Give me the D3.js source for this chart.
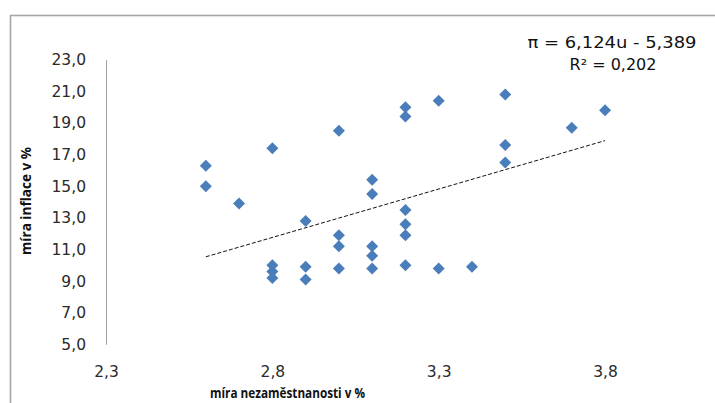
<!DOCTYPE html>
<html>
<head>
<meta charset="utf-8">
<script src="https://cdn.jsdelivr.net/npm/d3@7"></script>
<style>
  html, body { margin: 0; padding: 0; background: #fff; }
  svg { display: block; }
</style>
</head>
<body>
<script>
// ---- data ----
const unemployment = [2.6, 2.6, 2.7, 2.8, 2.8, 2.8, 2.8, 2.9, 2.9, 2.9,
  3.0, 3.0, 3.0, 3.0, 3.1, 3.1, 3.1, 3.1, 3.1,
  3.2, 3.2, 3.2, 3.2, 3.2, 3.2, 3.3, 3.3, 3.4, 3.5, 3.5, 3.5, 3.7, 3.8];
const inflation = [16.3, 15.0, 13.9, 17.4, 10.0, 9.6, 9.2, 12.8, 9.9, 9.1,
  18.5, 11.9, 11.2, 9.8, 15.4, 14.5, 11.2, 10.6, 9.8,
  20.0, 19.4, 13.5, 12.6, 11.9, 10.0, 20.4, 9.8, 9.9, 20.8, 17.6, 16.5, 18.7, 19.8];
const xTicks = [2.3, 2.8, 3.3, 3.8];
const yTicks = [5, 7, 9, 11, 13, 15, 17, 19, 21, 23];
const trendSlope = 6.124;
const trendIntercept = -5.389;
const equationText = "π = 6,124u - 5,389";
const r2Text = "R² = 0,202";
const xTitle = "míra nezaměstnanosti v %";
const yTitle = "míra inflace v %";

const W = 715, H = 403;
const svg = d3.select("body").append("svg").attr("width", W).attr("height", H);

// chart frame
svg.append("rect").attr("x", 10.5).attr("y", 15.5).attr("width", 900).attr("height", 600)
  .attr("fill", "none").attr("stroke", "#a6a6a6").attr("stroke-width", 1.6);

const x = d3.scaleLinear().domain([2.3, 4.3]).range([106, 106 + 2 * 332.7]);
const y = d3.scaleLinear().domain([5, 23]).range([344.3, 59.7]);

const fmt = v => d3.format(".1f")(v).replace(".", ",");
const font = "'DejaVu Sans', sans-serif";

// y axis
const yAxis = svg.append("g").attr("transform", "translate(106,0)")
  .call(d3.axisLeft(y).tickValues(yTicks).tickFormat(fmt).tickSize(0).tickPadding(20));
yAxis.select(".domain").attr("stroke", "#a0a0a0").attr("stroke-width", 1);
yAxis.selectAll("text").attr("font-family", font).attr("font-size", 15.5).attr("fill", "#2a2a2a");

// x axis (labels only)
const xAxis = svg.append("g").attr("transform", "translate(0,344.3)")
  .call(d3.axisBottom(x).tickValues(xTicks).tickFormat(fmt).tickSize(0).tickPadding(22));
xAxis.select(".domain").remove();
xAxis.selectAll("text").attr("font-family", font).attr("font-size", 15.5).attr("fill", "#2a2a2a");

// axis titles
svg.append("text").attr("x", 287.5).attr("y", 398).attr("text-anchor", "middle")
  .attr("font-family", "'Open Sans', sans-serif").attr("font-weight", "bold").attr("font-size", 15)
  .attr("textLength", 155).attr("lengthAdjust", "spacingAndGlyphs")
  .attr("fill", "#111").text(xTitle);
svg.append("text").attr("transform", "translate(31,201) rotate(-90)").attr("text-anchor", "middle")
  .attr("font-family", "'Open Sans', sans-serif").attr("font-weight", "bold").attr("font-size", 15)
  .attr("textLength", 108).attr("lengthAdjust", "spacingAndGlyphs")
  .attr("fill", "#111").text(yTitle);

// trend line
const xMin = d3.min(unemployment), xMax = d3.max(unemployment);
svg.append("line")
  .attr("x1", x(xMin)).attr("y1", y(trendSlope * xMin + trendIntercept))
  .attr("x2", x(xMax)).attr("y2", y(trendSlope * xMax + trendIntercept))
  .attr("stroke", "#111").attr("stroke-width", 1).attr("stroke-dasharray", "4,2");

// points (diamonds)
const pts = unemployment.map((u, i) => ({u, p: inflation[i]}));
const r = 6;
svg.append("g").selectAll("path").data(pts).join("path")
  .attr("transform", d => `translate(${x(d.u)},${y(d.p)})`)
  .attr("d", `M0,${-r}L${r},0L0,${r}L${-r},0Z`)
  .attr("fill", "#4a7ebb");

// equation
svg.append("text").attr("x", 612).attr("y", 48).attr("text-anchor", "middle")
  .attr("font-family", font).attr("font-size", 16).attr("fill", "#111")
  .attr("textLength", 169).attr("lengthAdjust", "spacingAndGlyphs").text(equationText);
svg.append("text").attr("x", 613).attr("y", 70).attr("text-anchor", "middle")
  .attr("font-family", font).attr("font-size", 16).attr("fill", "#111").text(r2Text);
</script>
</body>
</html>
